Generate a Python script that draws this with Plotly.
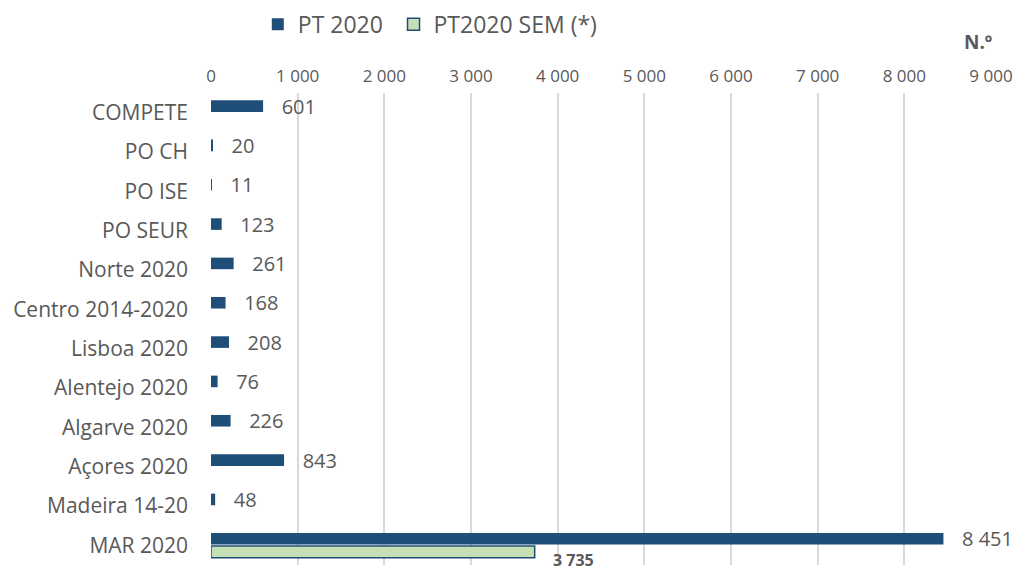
import plotly.graph_objects as go

categories = ["COMPETE", "PO CH", "PO ISE", "PO SEUR", "Norte 2020", "Centro 2014-2020",
              "Lisboa 2020", "Alentejo 2020", "Algarve 2020", "Açores 2020",
              "Madeira 14-20", "MAR 2020"]
pt2020 = [601, 20, 11, 123, 261, 168, 208, 76, 226, 843, 48, 8451]
sem_categories = ["MAR 2020"]
sem_values = [3735]
x_ticks = [0, 1000, 2000, 3000, 4000, 5000, 6000, 7000, 8000, 9000]

FONT = "Open Sans"
GREY = "#595959"
BLUE = "#1F4E79"
GREEN = "#C5E0B4"
PAD = "\u00a0\u00a0\u00a0"

fig = go.Figure()
fig.add_trace(go.Bar(
    y=categories, x=pt2020, orientation="h", name="PT 2020", legend="legend",
    marker=dict(color=BLUE, line=dict(width=0)),
    texttemplate=PAD + "%{x:,d}", textposition="outside", constraintext="none",
    textfont=dict(size=20, color=GREY, family=FONT), cliponaxis=False,
))
fig.add_trace(go.Bar(
    y=sem_categories, x=sem_values, orientation="h", name="PT2020 SEM (*)", legend="legend2",
    marker=dict(color=GREEN, line=dict(color=BLUE, width=1.5)),
))
for c, v in zip(sem_categories, sem_values):
    fig.add_annotation(x=v, y=c, text=f"<b>{v:,}</b>".replace(",", " "),
                       xanchor="left", yanchor="middle", xshift=16, yshift=-15,
                       showarrow=False, font=dict(size=16, color=GREY, family=FONT))

leg_common = dict(orientation="h", xanchor="left", y=0.995, yanchor="top",
                  yref="container", font=dict(size=23, color=GREY, family=FONT),
                  itemwidth=30, bgcolor="rgba(0,0,0,0)")
fig.update_layout(
    width=1018, height=570,
    paper_bgcolor="white", plot_bgcolor="white",
    barmode="group", bargap=0.33, bargroupgap=0.12,
    separators=", ",
    margin=dict(l=211, r=27, t=93, b=5),
    font=dict(family=FONT, color=GREY),
    showlegend=True,
    legend=dict(x=0.060, **leg_common),
    legend2=dict(x=0.234, **leg_common),
    xaxis=dict(side="top", range=[0, 9000], tickvals=x_ticks, tickformat=",d",
               showgrid=True, gridcolor="#D9D9D9", gridwidth=1.5, zeroline=False,
               showline=False, tickfont=dict(size=17, color=GREY, family=FONT),
               ticklabelstandoff=7, automargin=False),
    yaxis=dict(categoryorder="array", categoryarray=categories, autorange="reversed",
               showgrid=False, zeroline=False, showline=False, automargin=False,
               tickfont=dict(size=21, color=GREY, family=FONT), ticklabelstandoff=22),
)
fig.add_annotation(text="<b>N.º</b>", xref="paper", yref="paper", x=0.983, y=1.0,
                   yshift=51, xanchor="center", yanchor="middle", showarrow=False,
                   font=dict(size=19, color=GREY, family=FONT))

fig.write_html("out.html", config={"displayModeBar": False},
               post_script="document.body.style.margin='0';")
